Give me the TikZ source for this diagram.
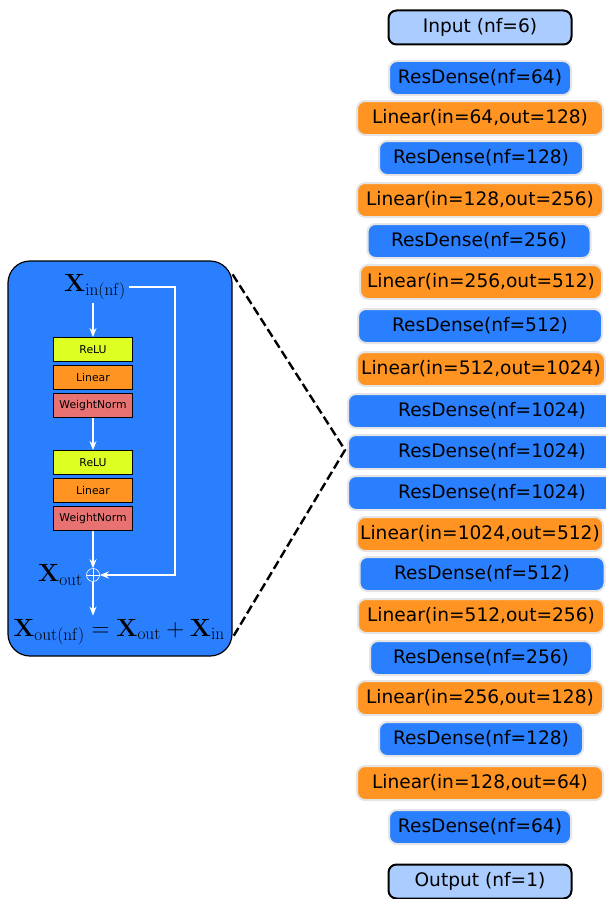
\documentclass[tikz,border=0pt]{standalone}
\usepackage[no-math]{fontspec}
\setmainfont{DejaVu Sans}
\usepackage{amsmath}
\usetikzlibrary{positioning,arrows.meta}
\definecolor{myblue}{RGB}{42,127,255}
\definecolor{myorange}{RGB}{255,148,35}
\definecolor{mylight}{RGB}{170,204,255}
\definecolor{mylime}{RGB}{221,255,34}
\definecolor{myred}{RGB}{232,114,114}

\begin{document}
\begin{tikzpicture}[x=1pt,y=-1pt,
  colbox/.style={rounded corners=8pt,draw=black!10,line width=2pt,
    minimum height=34pt,inner sep=0pt,font=\fontsize{18.6}{22}\selectfont},
  rdnode/.style={colbox,fill=myblue},
  lnnode/.style={colbox,fill=myorange,minimum width=246pt},
  ionode/.style={colbox,fill=mylight,draw=black,minimum width=183pt},
  layer/.style={draw=black,line width=0.8pt,minimum width=79pt,
    minimum height=24pt,inner sep=0pt,font=\fontsize{10.8}{12}\selectfont},
  mathlbl/.style={font=\fontsize{24}{28}\selectfont},
  warrow/.style={white,line width=1.2pt,-{Stealth[length=9pt,width=7pt]}}]

  \useasboundingbox (0,0) rectangle (605,899);

  % residual block
  \node[draw=black,line width=1.2pt,fill=myblue,rounded corners=22pt,
    minimum width=224pt,minimum height=395pt] (block) at (120,458.5) {};

  \node[mathlbl] (xin) at (95,287) {$\mathbf{X}_{\mathrm{in(nf)}}$};
  \node[layer,fill=mylime] (relua) at (93,349.5) {ReLU};
  \node[layer,fill=myorange,below=3pt of relua] (lina) {Linear};
  \node[layer,fill=myred,below=3pt of lina] (wna) {WeightNorm};

  \node[layer,fill=mylime] (relub) at (93,462.5) {ReLU};
  \node[layer,fill=myorange,below=3pt of relub] (linb) {Linear};
  \node[layer,fill=myred,below=3pt of linb] (wnb) {WeightNorm};

  \node[draw=white,line width=0.6pt,circle,minimum size=13pt,inner sep=0pt] (plus) at (93,575) {};
  \draw[white,line width=0.6pt] (plus.north) -- (plus.south) (plus.west) -- (plus.east);
  \node[mathlbl,left=0pt of plus] (xout) {$\mathbf{X}_{\mathrm{out}}$};
  \node[mathlbl] (sum) at (119,632) {$\mathbf{X}_{\mathrm{out(nf)}}=\mathbf{X}_{\mathrm{out}}+\mathbf{X}_{\mathrm{in}}$};
  \coordinate (skip) at (175,575);

  \draw[warrow] (xin.south -| relua.north) -- (relua.north);
  \draw[warrow] (wna.south) -- (relub.north);
  \draw[warrow] (wnb.south) -- (plus.north);
  \draw[warrow] (plus.south) -- (sum.north -| plus.south);
  \draw[warrow] (xin.east) -| (skip) -- (plus.east);

  % zoom lines
  \coordinate (apex) at (345,450);
  \draw[line width=2.4pt,dash pattern=on 9pt off 4pt]
    ([yshift=-14pt]block.north east) -- (apex) -- ([yshift=19pt]block.south east);

  % network column
  \node[ionode] (input) at (480,27.5) {Input (nf=6)};
  \node[rdnode,minimum width=182pt] (rd1) at (480,78) {ResDense(nf=64)};
  \node[lnnode] (ln1) at (480,118) {Linear(in=64,out=128)};
  \node[rdnode,minimum width=204pt] (rd2) at (481,158) {ResDense(nf=128)};
  \node[lnnode] (ln2) at (480,200) {Linear(in=128,out=256)};
  \node[rdnode,minimum width=223pt] (rd3) at (479,241) {ResDense(nf=256)};
  \node[lnnode,minimum width=242pt] (ln3) at (481,282) {Linear(in=256,out=512)};
  \node[rdnode,minimum width=244pt] (rd4) at (480,326) {ResDense(nf=512)};
  \node[lnnode,minimum width=248pt] (ln4) at (481,369) {Linear(in=512,out=1024)};
  \node[rdnode,minimum width=288pt] (rd5) at (492,411) {ResDense(nf=1024)};
  \node[rdnode,minimum width=288pt] (rd6) at (492,452) {ResDense(nf=1024)};
  \node[rdnode,minimum width=288pt] (rd7) at (492,493) {ResDense(nf=1024)};
  \node[lnnode] (ln5) at (480,534) {Linear(in=1024,out=512)};
  \node[rdnode,minimum width=245pt] (rd8) at (482,574) {ResDense(nf=512)};
  \node[lnnode] (ln6) at (481,616) {Linear(in=512,out=256)};
  \node[rdnode,minimum width=222pt] (rd9) at (481,658) {ResDense(nf=256)};
  \node[lnnode] (ln7) at (480,698) {Linear(in=256,out=128)};
  \node[rdnode,minimum width=204pt] (rd10) at (481,739) {ResDense(nf=128)};
  \node[lnnode] (ln8) at (480,783) {Linear(in=128,out=64)};
  \node[rdnode,minimum width=182pt] (rd11) at (480,827) {ResDense(nf=64)};
  \node[ionode] (output) at (480,881.5) {Output (nf=1)};

\end{tikzpicture}
\end{document}
